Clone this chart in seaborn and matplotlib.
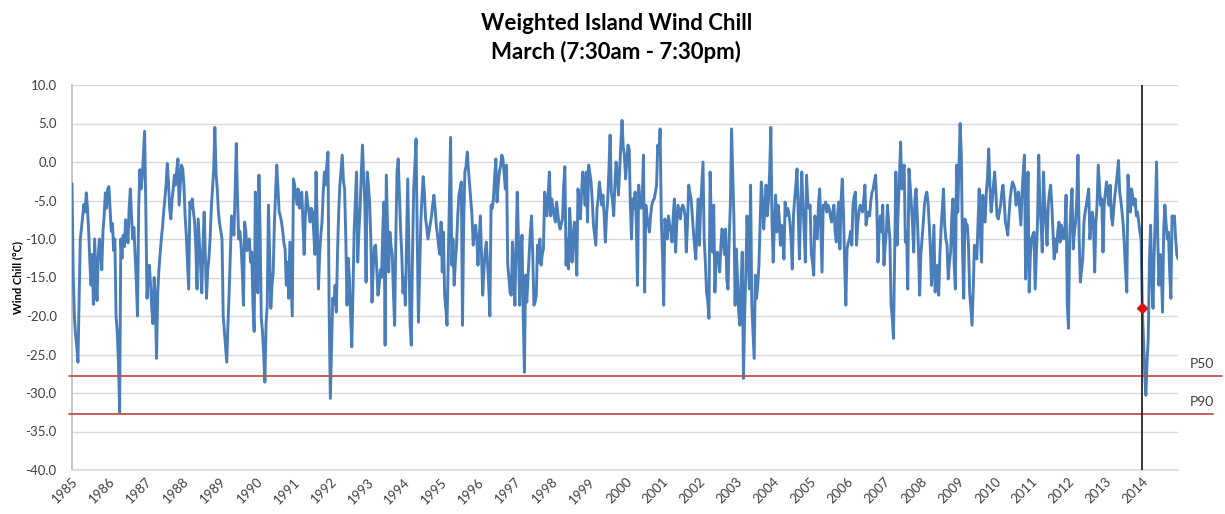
import numpy as np
import pandas as pd
import matplotlib
matplotlib.use("Agg")
import matplotlib.pyplot as plt
import matplotlib.transforms as mtransforms
import seaborn as sns

# Daily March wind chill (°C), 7:30am - 7:30pm, one list per year (1-31 March)
years = list(range(1985, 2015))

chill_1985 = [-2.8, -14.5, -20.0, -22.5, -24.0, -26.0, -17.5, -10.0, -8.5, -7.0, -5.5, -6.5, -4.0, -6.0, -9.0, -13.0,
              -16.0, -12.0, -18.5, -10.0, -14.0, -18.0, -12.5, -10.0, -11.5, -14.0, -9.0, -7.0, -4.0, -6.0, -3.5]
chill_1986 = [-3.2, -6.0, -9.0, -8.0, -11.5, -10.0, -20.0, -22.0, -26.0, -32.5, -10.0, -12.5, -9.5, -11.0, -7.5, -8.0,
              -10.5, -6.0, -3.5, -7.0, -10.0, -8.5, -12.0, -15.5, -20.0, -6.0, -1.0, -3.5, -2.0, 1.0, 4.0]
chill_1987 = [-6.0, -17.7, -14.5, -13.4, -16.0, -19.0, -21.0, -15.0, -18.0, -25.5, -17.0, -14.0, -12.0, -10.0, -8.5, -6.5,
              -4.8, -3.0, -0.2, -2.5, -6.0, -7.4, -5.0, -3.5, -1.7, -3.0, -1.0, 0.4, -5.6, -3.0, -0.4]
chill_1988 = [-0.9, -3.0, -7.0, -9.5, -13.0, -16.5, -5.2, -6.0, -4.8, -6.5, -7.8, -11.0, -16.5, -7.4, -10.5, -13.5,
              -17.0, -11.0, -6.5, -12.0, -17.7, -14.0, -12.5, -10.0, -6.0, -3.5, -1.0, 4.5, -1.5, -3.5, -6.5]
chill_1989 = [-8.0, -9.0, -10.0, -20.0, -22.0, -24.0, -26.0, -21.0, -17.0, -12.0, -7.0, -8.0, -9.5, -4.0, 2.4, -4.5,
              -10.0, -9.0, -10.8, -14.0, -18.6, -7.8, -9.0, -11.5, -10.4, -10.0, -13.0, -11.7, -18.6, -22.0, -3.9]
chill_1990 = [-12.0, -17.0, -1.7, -9.0, -20.3, -22.0, -25.0, -28.6, -21.0, -18.6, -5.6, -12.0, -19.0, -16.0, -14.3, -8.0,
              -4.0, -0.4, -3.5, -6.5, -7.0, -7.8, -9.0, -10.5, -11.3, -16.0, -13.0, -17.7, -10.4, -15.0, -20.0]
chill_1991 = [-2.2, -3.0, -4.3, -5.5, -3.5, -6.0, -5.0, -3.9, -8.0, -12.0, -7.0, -3.9, -5.5, -6.5, -7.8, -6.0,
              -6.5, -9.0, -12.0, -1.3, -8.0, -16.5, -12.0, -9.5, -7.8, -4.0, -1.3, -3.0, -0.5, 1.3, -19.5]
chill_1992 = [-30.7, -24.0, -17.7, -18.5, -16.0, -19.5, -12.0, -6.5, -3.0, -1.0, 0.9, -2.5, -3.5, -10.0, -18.6, -12.5,
              -15.0, -20.0, -24.0, -17.0, -9.0, -5.0, -1.3, -13.0, -9.0, -6.0, -1.3, 2.2, -2.0, -5.6, -15.6]
chill_1993 = [-1.3, -3.0, -5.2, -10.0, -18.2, -14.0, -11.0, -10.8, -13.9, -17.3, -16.0, -14.0, -15.0, -9.0, -5.2, -23.8,
              -1.7, -8.0, -14.3, -9.1, -11.0, -12.0, -17.0, -21.2, -10.0, -1.3, 0.4, -4.0, -8.7, -12.0, -17.0]
chill_1994 = [-15.0, -18.6, -10.0, -2.2, -12.0, -21.2, -23.8, -12.0, -3.5, -0.5, 3.0, -10.0, -20.8, -14.0, -7.8, -4.5,
              -1.9, -4.0, -7.4, -8.5, -10.0, -9.0, -8.0, -7.0, -5.5, -4.3, -6.0, -8.2, -9.5, -11.0, -12.0]
chill_1995 = [-7.8, -14.3, -9.1, -17.3, -19.0, -21.2, -13.0, -5.0, 3.2, -13.4, -10.0, -16.0, -13.0, -10.8, -7.0, -4.3,
              -3.5, -2.6, -21.2, -8.0, -1.3, -0.5, 1.3, -1.0, -3.0, -5.0, -7.0, -10.8, -9.0, -8.2, -10.0]
chill_1996 = [-13.4, -10.0, -7.0, -12.0, -17.3, -14.0, -11.7, -10.4, -13.0, -16.0, -20.0, -5.6, -6.0, -4.8, -2.0, 0.4,
              -5.2, -3.0, -1.3, -0.5, 0.9, 0.4, -1.5, -3.5, -0.4, -13.4, -15.0, -17.0, -17.3, -10.4, -14.0]
chill_1997 = [-18.6, -11.0, -3.9, -10.0, -18.6, -12.0, -9.5, -20.0, -27.3, -14.7, -18.2, -15.0, -12.0, -9.0, -7.0, -12.0,
              -18.6, -18.2, -17.3, -10.8, -13.0, -10.0, -13.4, -12.0, -11.3, -3.9, -5.5, -7.0, -4.0, -1.3, -7.0]
chill_1998 = [-4.8, -6.0, -7.0, -7.8, -5.2, -6.5, -8.0, -8.7, -8.0, -7.4, -3.0, -0.6, -13.4, -10.0, -13.9, -6.0,
              -9.0, -13.0, -10.0, -7.8, -11.0, -14.7, -3.5, -5.0, -7.4, -4.0, -1.3, -3.0, -5.6, -1.3, -7.8]
chill_1999 = [-0.4, -1.5, -2.6, -5.0, -8.2, -9.5, -10.8, -6.0, -4.8, -2.6, -4.0, -5.6, -4.3, -7.0, -10.4, -7.0,
              -4.8, -1.0, 3.5, -3.9, -5.0, -7.0, -3.0, 0.0, -1.5, -4.3, -1.0, 2.6, 5.4, 2.0, 0.9]
chill_2000 = [-2.2, 0.0, 2.2, 1.7, -5.6, -10.0, -4.8, -6.0, -3.9, -8.0, -16.0, -3.0, -5.0, -6.0, -4.8, 0.9,
              -16.9, -5.6, -7.0, -8.0, -9.1, -7.0, -5.6, -5.0, -4.8, -4.0, -3.0, 2.2, 1.0, 4.3, -7.4]
chill_2001 = [-12.0, -18.6, -7.4, -9.0, -10.0, -7.0, -8.2, -9.0, -10.4, -7.0, -4.8, -11.7, -8.0, -5.6, -6.5, -7.4,
              -6.0, -5.6, -6.0, -7.0, -11.7, -8.0, -3.0, -4.0, -4.8, -7.0, -9.1, -11.0, -12.6, -8.0, -4.8]
chill_2002 = [-10.8, -6.0, -3.0, 0.0, -10.0, -13.0, -16.9, -18.0, -20.3, -1.3, -8.0, -11.7, -5.6, -16.9, -13.0, -11.7,
              -12.5, -14.3, -11.0, -8.7, -10.0, -12.0, -8.7, -15.2, -16.5, -10.0, -5.6, 4.3, -1.3, -7.4, -18.6]
chill_2003 = [-11.3, -15.0, -19.5, -21.2, -16.0, -11.7, -28.1, -20.0, -14.3, -7.0, -12.0, -16.5, -3.0, -18.6, -22.0, -25.5,
              -14.7, -17.7, -16.0, -13.4, -8.0, -2.6, -5.0, -8.7, -6.0, -3.0, -7.0, -5.0, -1.3, 4.5, -8.0]
chill_2004 = [-13.0, -8.0, -4.3, -9.1, -5.6, -7.0, -10.8, -8.2, -10.0, -12.6, -5.2, -7.0, -6.0, -6.5, -7.8, -10.0,
              -13.9, -7.0, -4.8, -3.0, -0.9, -7.0, -12.6, -6.0, -1.3, -5.6, -9.0, -13.0, -1.7, -5.2, -6.0]
chill_2005 = [-5.6, -12.0, -13.0, -14.7, -7.0, -8.5, -10.0, -5.6, -3.5, -9.0, -14.3, -5.6, -6.0, -5.2, -6.5, -5.6,
              -6.0, -7.0, -7.8, -6.5, -5.6, -9.1, -10.4, -7.0, -5.2, -11.3, -5.0, -2.2, -6.5, -13.4, -18.6]
chill_2006 = [-11.3, -10.5, -10.0, -9.0, -10.8, -5.6, -4.5, -3.9, -10.8, -8.0, -6.5, -5.6, -6.0, -6.5, -5.0, -3.0,
              -8.2, -7.0, -6.5, -7.0, -5.0, -3.9, -3.5, -2.5, -1.7, -5.6, -13.0, -9.0, -7.0, -9.1, -5.6]
chill_2007 = [-13.4, -11.0, -9.1, -5.6, -8.0, -10.0, -18.6, -20.3, -22.9, -12.0, -1.3, -10.8, -6.0, -2.2, 2.6, -3.5,
              -1.0, -0.4, -10.4, -9.1, -16.5, -0.9, -3.0, -5.6, -8.0, -11.7, -4.8, -3.5, -7.0, -11.3, -17.3]
chill_2008 = [-12.0, -10.0, -8.0, -5.6, -4.5, -3.9, -5.2, -8.0, -11.3, -16.0, -12.0, -8.2, -16.9, -15.0, -13.4, -17.3,
              -12.0, -8.7, -6.0, -3.5, -8.2, -10.0, -10.8, -15.2, -13.0, -11.7, -7.0, -4.8, -13.4, -16.5, -0.4]
chill_2009 = [-6.5, -1.0, 5.0, 0.9, -11.3, -17.7, -7.4, -8.0, -8.2, -10.8, -16.9, -19.0, -21.2, -16.5, -10.8, -11.5,
              -12.6, -8.0, -3.5, -9.1, -13.0, -4.3, -6.0, -7.8, -3.9, -2.0, 1.7, -3.0, -6.5, -5.0, -3.0]
chill_2010 = [-1.3, -4.0, -7.0, -7.4, -6.5, -5.6, -4.0, -3.0, -5.0, -7.8, -8.5, -9.5, -7.0, -4.8, -3.5, -2.6,
              -3.0, -3.5, -5.6, -4.5, -3.9, -6.0, -8.2, -4.0, -1.3, 0.9, -15.2, -10.0, -1.3, -16.9, -12.0]
chill_2011 = [-10.0, -9.5, -9.1, -16.5, -12.0, -7.8, 0.9, -5.6, -8.0, -11.7, -1.3, -5.6, -8.0, -10.8, -5.6, -4.0,
              -3.0, -5.6, -9.0, -12.6, -10.0, -11.7, -9.0, -7.8, -10.4, -8.2, -9.0, -10.0, -8.7, -4.3, -18.6]
chill_2012 = [-21.6, -10.0, -6.0, -3.5, -11.3, -9.0, -7.8, -4.8, 0.9, -10.0, -15.6, -14.0, -12.6, -7.8, -6.5, -5.6,
              -4.5, -3.5, -10.0, -8.0, -6.5, -7.8, -14.3, -8.0, -5.6, -0.4, -3.0, -5.6, -4.8, -11.7, -5.6]
chill_2013 = [-3.9, -2.6, -4.0, -5.6, -3.0, -7.0, -8.2, -6.0, -4.3, -3.0, -1.5, 0.2, -3.9, -5.0, -6.5, -8.2,
              -11.0, -14.3, -16.9, -1.7, -4.0, -6.5, -3.5, -4.5, -5.6, -4.8, -7.0, -6.5, -7.8, -9.1, -10.0]
chill_2014 = [-19.0, -23.0, -27.3, -30.3, -26.0, -22.9, -13.0, -8.2, -15.2, -19.0, -12.0, -6.5, 0.0, -10.0, -16.0, -12.0,
              -14.0, -19.5, -8.7, -5.6, -8.0, -10.0, -9.1, -14.3, -17.7, -7.0, -7.8, -7.0, -10.0, -12.0, -12.6]

yearly = [chill_1985, chill_1986, chill_1987, chill_1988, chill_1989, chill_1990, chill_1991, chill_1992,
          chill_1993, chill_1994, chill_1995, chill_1996, chill_1997, chill_1998, chill_1999, chill_2000,
          chill_2001, chill_2002, chill_2003, chill_2004, chill_2005, chill_2006, chill_2007, chill_2008,
          chill_2009, chill_2010, chill_2011, chill_2012, chill_2013, chill_2014]

# Percentile thresholds
p50 = -27.8
p90 = -32.7

# Highlighted day: 1 March 2014
marked_year = 2014
marked_day = 1

days_per_year = 31
values = np.concatenate([np.asarray(v, dtype=float) for v in yearly])
df = pd.DataFrame({"step": np.arange(len(values)), "chill": values})
marked_step = years.index(marked_year) * days_per_year + (marked_day - 1)

sns.set_theme(style="white")
plt.rcParams["font.family"] = ["Lato", "DejaVu Sans"]

W, H = 1225, 514
fig = plt.figure(figsize=(W / 100, H / 100), dpi=100)
ax = fig.add_axes([72 / W, 44 / H, (1178 - 72) / W, (470 - 85) / H])

sns.lineplot(data=df, x="step", y="chill", ax=ax, color="#4A7EBB", linewidth=2.1, zorder=3)

ax.set_xlim(0, len(values) - 1)
ax.set_ylim(-40, 10)
yt = np.arange(-40, 10.01, 5)
ax.set_yticks(yt)
ax.set_yticklabels([f"{v:.1f}" for v in yt], fontsize=9.5, color="#404040")
ax.yaxis.grid(True, color="#D9D9D9", linewidth=1.0)
ax.set_axisbelow(True)

ax.set_xticks([i * days_per_year for i in range(len(years))])
ax.set_xticklabels([str(y) for y in years], rotation=45, ha="right", va="top",
                   rotation_mode="anchor", fontsize=9.5, color="#404040")
ax.tick_params(axis="x", length=0, pad=4)
ax.tick_params(axis="y", length=0, pad=11)

for side in ["top", "right"]:
    ax.spines[side].set_visible(False)
ax.spines["left"].set_color("#BFBFBF")
ax.spines["bottom"].set_color("#D9D9D9")

ax.set_xlabel("")
ax.set_ylabel("Wind Chill (°C)", fontsize=8, fontweight="bold", color="#000000", labelpad=2)

# Percentile reference lines that run past the plot edge
blend = mtransforms.blended_transform_factory(ax.transAxes, ax.transData)
ax.plot([-0.003, 1.04], [p50, p50], transform=blend, color="#C0504D", linewidth=1.3, clip_on=False, zorder=4)
ax.plot([-0.003, 1.032], [p90, p90], transform=blend, color="#C0504D", linewidth=1.3, clip_on=False, zorder=4)
ax.text(1.011, p50 + 0.8, "P50", transform=blend, fontsize=10, color="#404040", va="bottom", ha="left")
ax.text(1.011, p90 + 0.8, "P90", transform=blend, fontsize=10, color="#404040", va="bottom", ha="left")

# Highlighted day
ax.axvline(marked_step, color="#262626", linewidth=1.3, zorder=5)
ax.plot([marked_step], [values[marked_step]], marker="D", markersize=5, color="#E01010",
        linestyle="none", zorder=6)

fig.text(0.503, 0.975, "Weighted Island Wind Chill\nMarch (7:30am - 7:30pm)", ha="center", va="top",
         fontsize=16, fontweight="bold", color="#000000", linespacing=1.4)

fig.savefig("out.png", dpi=100)
